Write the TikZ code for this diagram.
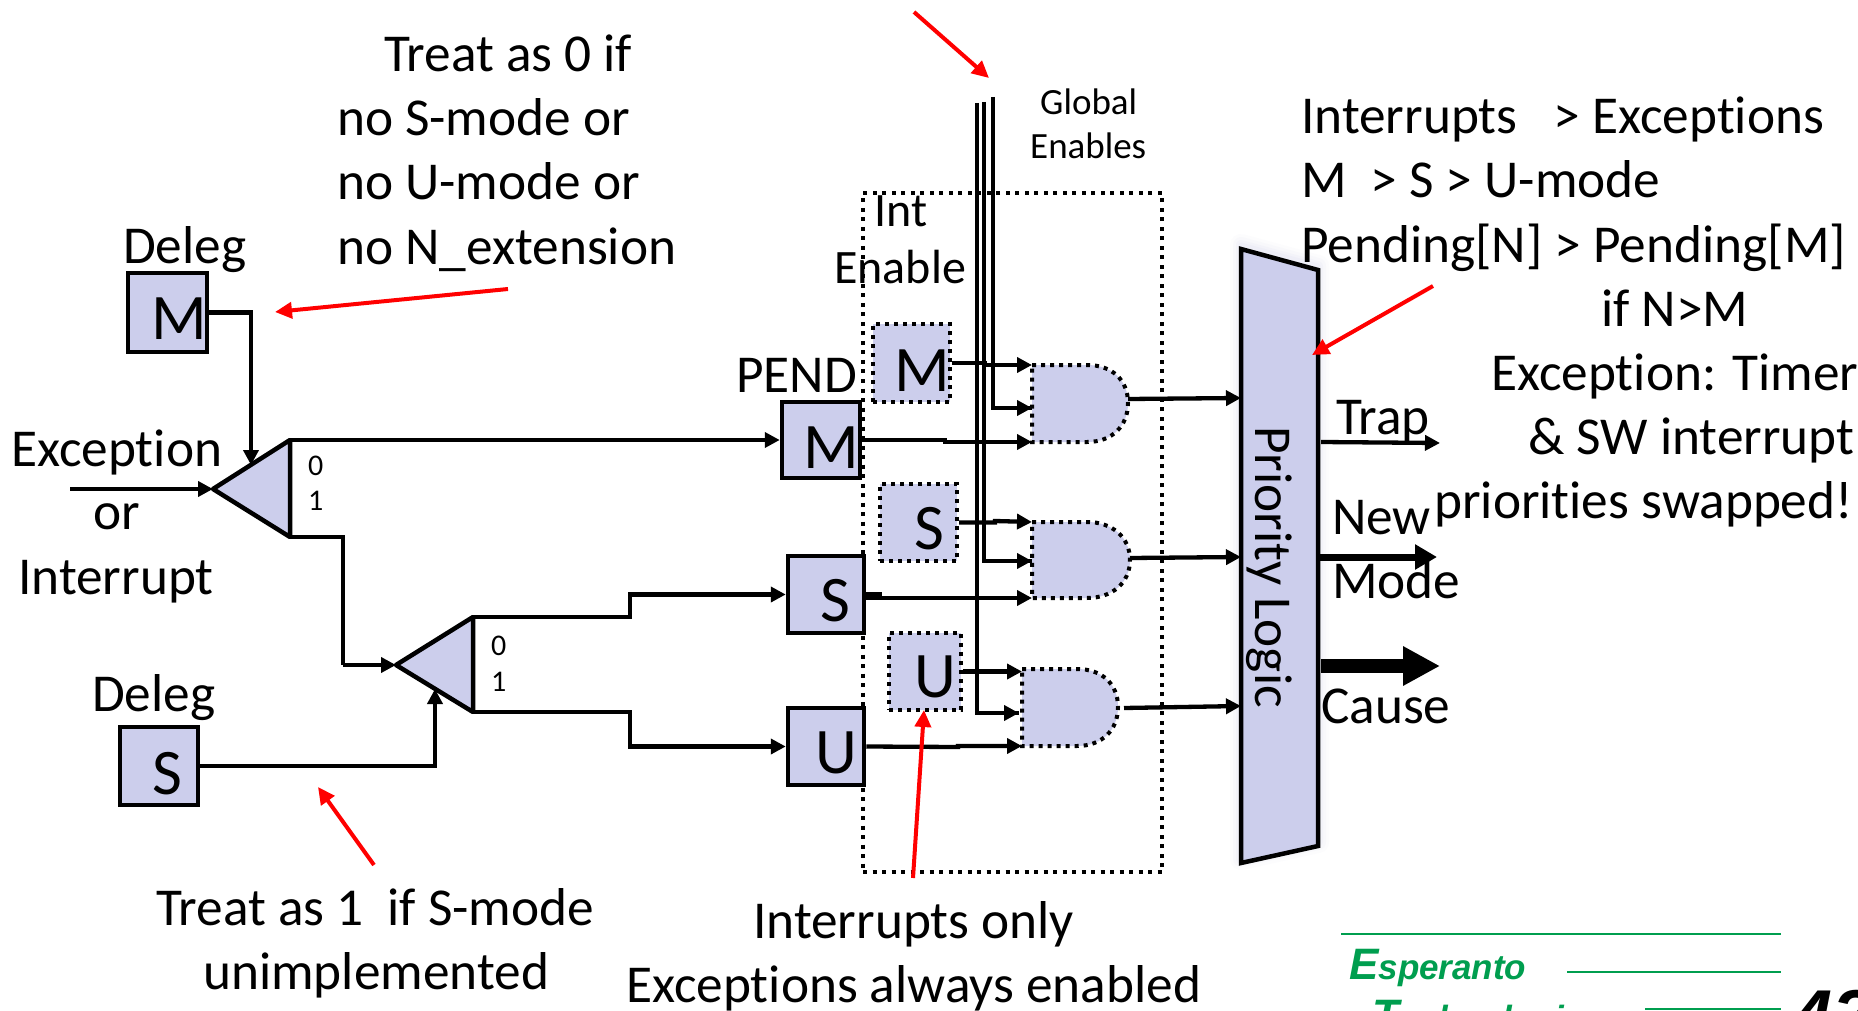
\documentclass[tikz,border=0pt]{standalone}
\usepackage{fontspec}
\setmainfont{Carlito}[Ligatures=NoCommon]
\newfontfamily\logofont{Liberation Sans}
\usetikzlibrary{arrows.meta}
\definecolor{boxfill}{RGB}{204,206,236}
\definecolor{logogreen}{RGB}{0,158,79}
\definecolor{redarrow}{RGB}{255,0,0}
\tikzset{
  txt/.style={anchor=base west,inner sep=0pt,font=\fontsize{53.3}{60}\selectfont},
  midtxt/.style={anchor=base west,inner sep=0pt,font=\fontsize{48}{56}\selectfont},
  smalltxt/.style={anchor=base west,inner sep=0pt,font=\fontsize{37}{42}\selectfont},
  digit/.style={anchor=base west,inner sep=0pt,font=\fontsize{30}{34}\selectfont},
  letter/.style={anchor=base west,inner sep=0pt,font=\fontsize{65}{70}\selectfont},
  solidbox/.style={draw=black,fill=boxfill,line width=4.5pt,inner sep=0pt},
  dotbox/.style={draw=black,fill=boxfill,line width=4pt,inner sep=0pt,dash pattern=on 4pt off 5pt},
  gateshape/.style={draw=black,fill=boxfill,line width=4pt,dash pattern=on 4pt off 5pt},
  muxshape/.style={draw=black,fill=boxfill,line width=4.5pt,line join=round},
  wire/.style={draw=black,line width=4.3pt,-{Triangle[length=15pt,width=15pt]}},
  plainwire/.style={draw=black,line width=4.3pt},
  redarr/.style={draw=redarrow,line width=4pt,-{Triangle[length=17pt,width=16pt]}},
  greenline/.style={draw=logogreen,line width=2.2pt},
}
\begin{document}
\begin{tikzpicture}[x=1pt,y=-1pt]
\useasboundingbox (0,0) rectangle (1858,1011);
\fill[white] (0,0) rectangle (1858,1011);

% dotted enclosure
\node[draw=black,line width=4pt,dash pattern=on 4pt off 5.5pt,inner sep=0pt,minimum width=299pt,minimum height=679pt] (encl) at (1012.5,532.5) {};

% shapes
\node[solidbox,minimum width=79pt,minimum height=79pt] (dm) at (167.5,312.5) {};
\node[solidbox,minimum width=78pt,minimum height=78pt] (ds) at (159,766) {};
\node[solidbox,minimum width=78pt,minimum height=76pt] (pm) at (821,440) {};
\node[solidbox,minimum width=76pt,minimum height=77pt] (ps) at (826,594.5) {};
\node[solidbox,minimum width=76pt,minimum height=77pt] (pu) at (826,746.5) {};
\node[dotbox,minimum width=77pt,minimum height=78pt] (em) at (911.5,363) {};
\node[dotbox,minimum width=77pt,minimum height=77pt] (es) at (918.5,522.5) {};
\node[dotbox,minimum width=72pt,minimum height=77pt] (eu) at (925,671.5) {};

% muxes
\coordinate (m1a) at (213,489); \coordinate (m1t) at (290,440); \coordinate (m1b) at (290,537); \coordinate (m1s) at (251,465);
\coordinate (m2a) at (396,665); \coordinate (m2t) at (473,617); \coordinate (m2b) at (473,712); \coordinate (m2s) at (435,689);
\coordinate (m1in) at (70,489);
\path[muxshape] (m1a) -- (m1t) -- (m1b) -- cycle;
\path[muxshape] (m2a) -- (m2t) -- (m2b) -- cycle;

% gates
\coordinate (g1a) at (1032,365); \coordinate (g1b) at (1032,408); \coordinate (g1c) at (1032,442); \coordinate (g1o) at (1128,399);
\coordinate (g2a) at (1032,522); \coordinate (g2b) at (1032,561); \coordinate (g2c) at (1032,598); \coordinate (g2o) at (1130,558);
\coordinate (g3a) at (1022,669); \coordinate (g3b) at (1019,713); \coordinate (g3c) at (1022,746); \coordinate (g3o) at (1124,708);
\path[gateshape] (g1a) -- (1087,365) .. controls (1112,365) and (1128,380) .. (1128,403) .. controls (1128,426) and (1112,442) .. (1087,442) -- (g1c) -- cycle;
\path[gateshape] (g2a) -- (1087,522) .. controls (1112,522) and (1130,537) .. (1130,560) .. controls (1130,583) and (1112,598) .. (1087,598) -- (g2c) -- cycle;
\path[gateshape] (g3a) -- (1077,669) .. controls (1102,669) and (1118,684) .. (1118,707) .. controls (1118,730) and (1102,746) .. (1077,746) -- (g3c) -- cycle;

% priority logic block with soft shadow
\foreach \w/\o in {22/.06,16/.08,10/.10,5/.12}{
  \draw[boxfill,line width=\w pt,opacity=\o,line join=round,yshift=4pt] (1241,249) -- (1318,270) -- (1318,846) -- (1241,863) -- cycle;
}
\coordinate (pl1) at (1241,398); \coordinate (pl2) at (1241,557); \coordinate (pl3) at (1241,706);
\path[muxshape,line join=miter] (1241,249) -- (1318,270) -- (1318,846) -- (1241,863) -- cycle;

% global enable lines
\coordinate (ge1) at (977,103); \coordinate (ge2) at (984,102); \coordinate (ge3) at (993,97);
\draw[plainwire] (ge1) |- (g3b);
\draw[wire] (977,713) -- (g3b);
\draw[plainwire] (ge2) |- (g2b);
\draw[wire] (984,561) -- (g2b);
\draw[plainwire] (ge3) |- (g1b);
\draw[wire] (993,408) -- (g1b);

% wires
\draw[wire] (m1in) -- (m1a);
\draw[wire] (dm.east) -| (m1s);
\draw[wire] (m1t) -- (pm.west);
\draw[plainwire] (m1b) -- (343,537) -- (343,665);
\draw[wire] (343,665) -- (m2a);
\draw[wire] (ds.east) -| (m2s);
\draw[wire] (m2t) -- (630,617) -- (630,594.5) -- (ps.west);
\draw[wire] (m2b) -- (630,712) -- (630,746.5) -- (pu.west);
\draw[wire] (em.east) -- (985,363) -- (985,365) -- (g1a);
\draw[wire] (pm.east) -- (945,440) -- (945,442) -- (g1c);
\draw[wire] (es.east) -- (995,522.5) -- (995,521) -- (g2a);
\draw[plainwire,line width=6pt] (ps.east) -- +(16,0);
\draw[wire] (ps.east |- g2c) -- (g2c);
\draw[wire] (eu.east) -- (g3a |- eu.east);
\draw[wire] (pu.east) -- (958,747) -- (958,746) -- (g3c);
\draw[wire] (g1o) -- (pl1);
\draw[wire] (g2o) -- (pl2);
\draw[wire] (g3o) -- (pl3);

% outputs
\coordinate (o1s) at (1321,442); \coordinate (o1e) at (1440,443);
\coordinate (o2s) at (1319,557); \coordinate (o2e) at (1437,557);
\coordinate (o3s) at (1321,666); \coordinate (o3e) at (1440,666);
\draw[wire] (o1s) -- (o1e);
\draw[draw=black,line width=7pt,-{Triangle[length=22pt,width=24pt]}] (o2s) -- (o2e);
\draw[draw=black,line width=14pt,-{Triangle[length=37pt,width=37pt]}] (o3s) -- (o3e);

% red arrows
\coordinate (r1s) at (914,12); \coordinate (r1e) at (989,78);
\coordinate (r2s) at (508,289); \coordinate (r2e) at (275,312);
\coordinate (r3s) at (1433,286); \coordinate (r3e) at (1312,355);
\coordinate (r4s) at (374,865); \coordinate (r4e) at (318,787);
\coordinate (r5s) at (913,878); \coordinate (r5e) at (924,710);
\draw[redarr] (r1s) -- (r1e);
\draw[redarr] (r2s) -- (r2e);
\draw[redarr] (r3s) -- (r3e);
\draw[redarr] (r4s) -- (r4e);
\draw[redarr] (r5s) -- (r5e);

% letters
\node[letter] (tdm) at (151,339) {M};
\node[letter] (tds) at (152,794) {S};
\node[letter] (tpm) at (803,468) {M};
\node[letter] (tps) at (820,621) {S};
\node[letter] (tpu) at (815,773) {U};
\node[letter] (tem) at (894,391) {M};
\node[letter] (tes) at (914,549) {S};
\node[letter] (teu) at (914,697) {U};

% texts
\node[txt] (t1) at (384,72) {Treat as 0 if};
\node[txt] (t2) at (337,136) {no S-mode or};
\node[txt] (t3) at (337,200) {no U-mode or};
\node[txt] (t4) at (337,264) {no N\_extension};
\node[txt] (d1) at (123,263) {Deleg};
\node[txt] (d2) at (92,711) {Deleg};
\node[txt] (ex) at (11,466) {Exception};
\node[txt] (orr) at (93,529) {or};
\node[txt] (ir) at (18,594) {Interrupt};
\node[digit] (z1) at (308,475) {0};
\node[digit] (o1) at (308,510) {1};
\node[digit] (z2) at (491,655) {0};
\node[digit] (o2) at (491,691) {1};
\node[txt] (pend) at (736,392) {PEND};
\node[smalltxt] (ge) at (1040,115) {Global};
\node[smalltxt] (en) at (1030,159) {Enables};
\node[midtxt] (ie1) at (874,227) {Int};
\node[midtxt] (ie2) at (834,283) {Enable};
\node[txt] (r1) at (1301,134) {Interrupts\ \ \ > Exceptions};
\node[txt] (r2) at (1301,198) {M\ \ > S > U-mode};
\node[txt] (r3) at (1301,262) {Pending[N] > Pending[M]};
\node[txt] (r4) at (1601,326) {if N>M};
\node[txt] (r5) at (1491,390) {Exception: Timer};
\node[txt] (r6) at (1528,454) {\& SW interrupt};
\node[txt] (r7) at (1434,518) {priorities swapped!};
\node[txt] (trap) at (1336,434) {Trap};
\node[txt] (new) at (1332,534) {New};
\node[txt] (mode) at (1332,598) {Mode};
\node[txt] (cause) at (1321,723) {Cause};
\node[txt,rotate=-90] (plt) at (1255,426) {Priority Logic};
\node[txt] (b1) at (156,925) {Treat as 1\ \ if S-mode};
\node[txt] (b2) at (203,989) {unimplemented};
\node[txt] (b3) at (753,938) {Interrupts only};
\node[txt] (b4) at (626,1002) {Exceptions always enabled};

% logo
\coordinate (l1a) at (1341,934); \coordinate (l1b) at (1781,934);
\coordinate (l2a) at (1567,972); \coordinate (l2b) at (1781,972);
\coordinate (l3a) at (1645,1009); \coordinate (l3b) at (1781,1009);
\draw[greenline] (l1a) -- (l1b);
\draw[greenline] (l2a) -- (l2b);
\draw[greenline] (l3a) -- (l3b);
\node[anchor=base west,inner sep=0pt,text=logogreen] (esp) at (1349,979) {\logofont\bfseries\itshape\fontsize{44}{48}\selectfont E\fontsize{35}{40}\selectfont speranto};
\node[anchor=base west,inner sep=0pt,text=logogreen] (tec) at (1372,1030) {\logofont\bfseries\itshape\fontsize{44}{48}\selectfont T\fontsize{35}{40}\selectfont echnologies};
\node[anchor=base west,inner sep=0pt] (pg) at (1792,1040) {\logofont\bfseries\itshape\fontsize{72}{80}\selectfont 42};
\end{tikzpicture}
\end{document}
